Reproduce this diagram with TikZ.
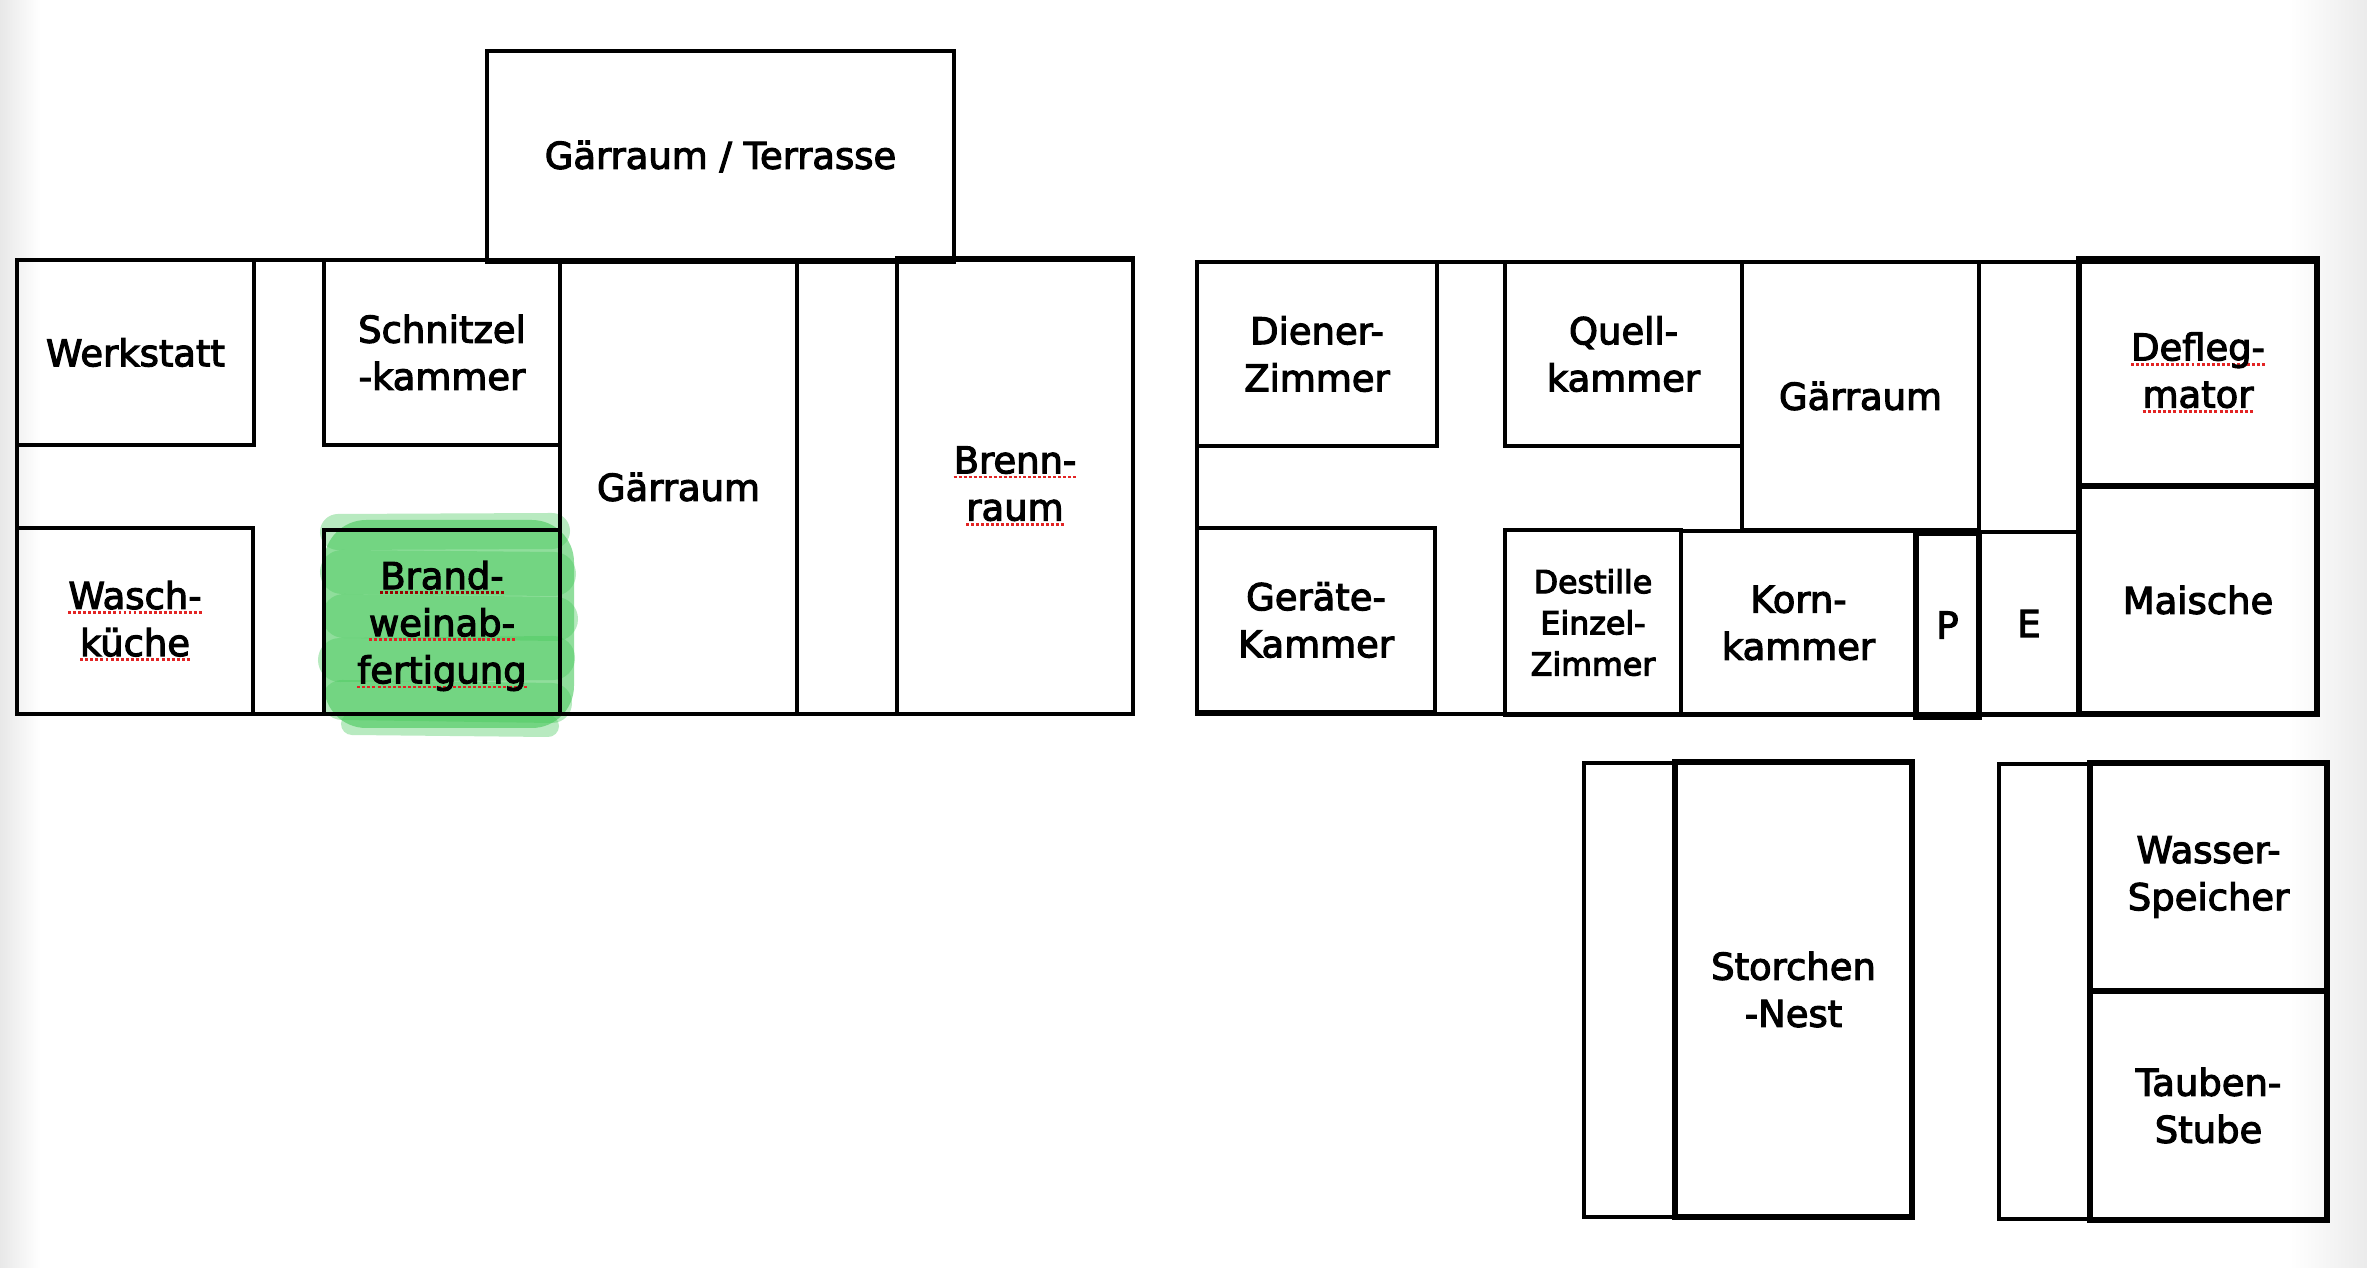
\documentclass[tikz,border=0pt]{standalone}
\usepackage{fontspec}
\setmainfont{DejaVu Sans}
\usetikzlibrary{fit}
\definecolor{splred}{RGB}{226,36,36}
\definecolor{hlgreen}{RGB}{70,200,90}
\newcommand\spl[1]{\leavevmode\setbox0=\hbox{#1}%
  \rlap{\kern-0.3pt\textcolor{splred}{\raisebox{-1.45pt}{\hbox to \dimexpr\wd0+0.6pt\relax{\xleaders\hbox to 1.4pt{\hss\rule{0.85pt}{0.8pt}\hss}\hfill}}}}%
  \box0}
\newcommand\heavy{\special{pdf:literal q 2 Tr 0.32 w 0 G}}
\newcommand\unheavy{\special{pdf:literal Q}}
\tikzset{
  room/.style={draw=black, line width=1.35pt, inner sep=0pt, outer sep=0pt},
  thickroom/.style={room, line width=1.8pt},
  wall/.style={draw=black, line width=1.35pt, inner sep=0pt, outer sep=0pt},
  lbl/.style={inner sep=0pt, align=center, anchor=center,
    font=\fontsize{10.5pt}{13.4pt}\selectfont},
  smalllbl/.style={lbl, font=\fontsize{9pt}{11.7pt}\selectfont},
  hl/.style={draw=hlgreen, line cap=round, opacity=0.38}
}
\begin{document}
\begin{tikzpicture}[x=0.01cm,y=-0.01cm]
\useasboundingbox (0,0) rectangle (2367,1268);
\fill[white] (0,0) rectangle (2367,1268);
\shade[left color=black!9, right color=white] (0,0) rectangle (40,1268);
\shade[left color=white, right color=black!8] (2290,0) rectangle (2367,1268);

% green highlight
\fill[hlgreen, opacity=0.6, rounded corners=12] (324,520) rectangle (574,728);
\draw[hl, line width=0.36cm] (338,532) -- (552,531);
\draw[hl, line width=0.44cm] (342,572) -- (554,574);
\draw[hl, line width=0.44cm] (344,616) -- (556,619);
\draw[hl, line width=0.44cm] (340,660) -- (553,658);
\draw[hl, line width=0.40cm] (342,700) -- (552,703);
\draw[hl, line width=0.22cm] (352,724) -- (548,726);

% left building
\node[room, fit={(487,51) (954,262)}] (terr) {};
\node[wall, fit={(17,260) (1133,714)}] (leftbldg) {};
\node[room, fit={(17,260) (254,445)}] (werk) {};
\node[room, fit={(324,260) (560,445)}] (schn) {};
\node[room, fit={(17,528) (253,714)}] (wasch) {};
\node[room, fit={(324,530) (560,714)}] (brand) {};
\node[room, fit={(560,260) (797,714)}] (gaer1) {};
\node[room, fit={(897,258) (1133,714)}] (brenn) {};

% right building
\node[wall, fit={(1197,262) (2317,714)}] (rightbldg) {};
\node[room, fit={(1197,262) (1437,446)}] (diener) {};
\node[room, fit={(1505,262) (1742,446)}] (quell) {};
\node[room, fit={(1742,262) (1979,530)}] (gaer2) {};
\node[wall, fit={(1979,262) (2079,532)}] (strip2) {};
\node[thickroom, fit={(2079,259) (2317,486)}] (defleg) {};
\node[thickroom, fit={(2079,486) (2317,714)}] (maische) {};
\node[room, fit={(1197,528) (1435,712)}] (geraete) {};
\node[room, fit={(1505,530) (1681,715)}] (destille) {};
\node[room, fit={(1681,531) (1916,715)}] (korn) {};
\node[thickroom, fit={(1916,533) (1979,717)}] (pp) {};
\node[room, fit={(1979,532) (2079,715)}] (ee) {};

% bottom buildings
\node[wall, fit={(1584,763) (1912,1217)}] (storchout) {};
\node[thickroom, fit={(1675,762) (1912,1217)}] (storch) {};
\node[wall, fit={(1999,764) (2327,1219)}] (taubout) {};
\node[thickroom, fit={(2090,763) (2327,991)}] (wasser) {};
\node[thickroom, fit={(2090,991) (2327,1220)}] (tauben) {};

% labels
\node[lbl] (terr-t) at (terr.center) {\heavy Gärraum / Terrasse\unheavy};
\node[lbl] (werk-t) at (werk.center) {\heavy Werkstatt\unheavy};
\node[lbl] (schn-t) at (schn.center) {\heavy Schnitzel\\-kammer\unheavy};
\node[lbl] (wasch-t) at (wasch.center) {\heavy\spl{Wasch-}\\\spl{küche}\unheavy};
\node[lbl] (brand-t) at ([yshift=-0.04cm]brand.center)
  {\colorlet{splred}{red!60!black}\heavy\spl{Brand-}\\\spl{weinab-}\\\spl{fertigung}\unheavy};
\node[lbl] (gaer1-t) at (gaer1.center) {\heavy Gärraum\unheavy};
\node[lbl] (brenn-t) at (brenn.center) {\heavy\spl{Brenn-}\\\spl{raum}\unheavy};
\node[lbl] (diener-t) at (diener.center) {\heavy Diener-\\Zimmer\unheavy};
\node[lbl] (quell-t) at (quell.center) {\heavy Quell-\\kammer\unheavy};
\node[lbl] (gaer2-t) at (gaer2.center) {\heavy Gärraum\unheavy};
\node[lbl] (defleg-t) at (defleg.center) {\heavy\spl{Defleg-}\\\spl{mator}\unheavy};
\node[lbl] (maische-t) at (maische.center) {\heavy Maische\unheavy};
\node[lbl] (geraete-t) at (geraete.center) {\heavy Geräte-\\Kammer\unheavy};
\node[smalllbl] (destille-t) at (destille.center) {\heavy Destille\\Einzel-\\Zimmer\unheavy};
\node[lbl] (korn-t) at (korn.center) {\heavy Korn-\\kammer\unheavy};
\node[lbl] (pp-t) at (pp.center) {\heavy P\unheavy};
\node[lbl] (ee-t) at (ee.center) {\heavy E\unheavy};
\node[lbl] (storch-t) at (storch.center) {\heavy Storchen\\-Nest\unheavy};
\node[lbl] (wasser-t) at (wasser.center) {\heavy Wasser-\\Speicher\unheavy};
\node[lbl] (tauben-t) at (tauben.center) {\heavy Tauben-\\Stube\unheavy};
\end{tikzpicture}
\end{document}
